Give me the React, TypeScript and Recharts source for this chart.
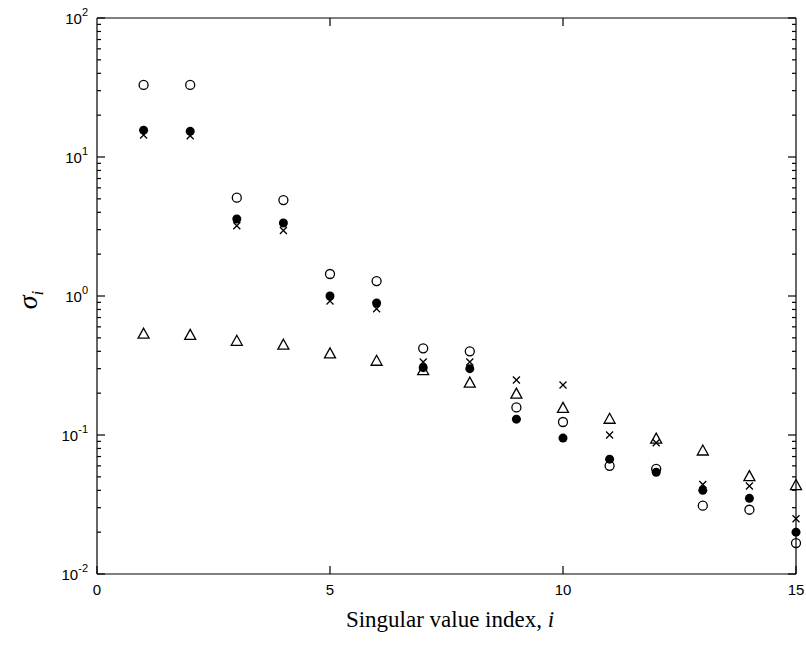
import React from 'react';
import { ScatterChart, Scatter, XAxis, YAxis } from 'recharts';

// singular value index
const indices = [1, 2, 3, 4, 5, 6, 7, 8, 9, 10, 11, 12, 13, 14, 15];

// four sets of singular values
const sigmaOpen = [33, 33, 5.1, 4.9, 1.44, 1.28, 0.42, 0.4, 0.158, 0.124, 0.06, 0.057, 0.031, 0.029, 0.0167];
const sigmaFilled = [15.6, 15.3, 3.58, 3.35, 1.0, 0.89, 0.305, 0.3, 0.13, 0.095, 0.067, 0.054, 0.04, 0.035, 0.02];
const sigmaCross = [14.4, 14.2, 3.2, 2.96, 0.92, 0.81, 0.335, 0.335, 0.249, 0.229, 0.1, 0.088, 0.044, 0.043, 0.025];
const sigmaTriangle = [0.54, 0.53, 0.48, 0.45, 0.39, 0.345, 0.295, 0.24, 0.2, 0.158, 0.132, 0.095, 0.078, 0.051, 0.044];

const xTicks = [0, 5, 10, 15];
const xTopTicks = [5, 10];
const yMajorTicks = [0.01, 0.1, 1, 10, 100];
const yExponents = ['-2', '-1', '0', '1', '2'];
const minorMultipliers = [2, 3, 4, 5, 6, 7, 8, 9];
const yMinorTicks = [0.01, 0.1, 1, 10].flatMap(d => minorMultipliers.map(m => +(m * d).toPrecision(3)));
const yAllTicks = [...yMajorTicks, ...yMinorTicks].sort((a, b) => a - b);

const toPoints = (vals: number[]) => indices.map((i, k) => ({ i, v: vals[k] }));

const tickFont = '"Liberation Sans", Arial, sans-serif';

const majorIndex = (v: number) => yMajorTicks.findIndex(t => Math.abs(t - v) / t < 1e-6);

const LeftTick = (props: any) => {
  const x = Number(props.x);
  const y = Number(props.y);
  const idx = majorIndex(props.payload.value);
  const major = idx >= 0;
  return (
    <g>
      <path d={`M${x},${y}h${major ? 8 : 4}`} stroke="#000" strokeWidth={1.2} fill="none" />
      {major && (
        <text x={x - 9} y={y + 6} textAnchor="end" fontFamily={tickFont} fontSize={15} fill="#000">
          <tspan>10</tspan>
          <tspan dy={-8} fontSize={11}>{yExponents[idx]}</tspan>
        </text>
      )}
    </g>
  );
};

const RightTick = (props: any) => {
  const x = Number(props.x);
  const y = Number(props.y);
  const major = majorIndex(props.payload.value) >= 0;
  return <path d={`M${x},${y}h${major ? -8 : -4}`} stroke="#000" strokeWidth={1.2} fill="none" />;
};

const BottomTick = (props: any) => {
  const x = Number(props.x);
  const y = Number(props.y);
  return (
    <g>
      <path d={`M${x},${y}v-8`} stroke="#000" strokeWidth={1.2} fill="none" />
      <text x={x} y={y + 21} textAnchor="middle" fontFamily={tickFont} fontSize={15} fill="#000">
        {props.payload.value}
      </text>
    </g>
  );
};

const TopTick = (props: any) => {
  const x = Number(props.x);
  const y = Number(props.y);
  return <path d={`M${x},${y}v8`} stroke="#000" strokeWidth={1.2} fill="none" />;
};

const NoShape = () => <g />;

const OpenCircle = (props: any) => (
  <circle cx={props.cx} cy={props.cy} r={4.5} fill="none" stroke="#000" strokeWidth={1.3} />
);
const FilledCircle = (props: any) => <circle cx={props.cx} cy={props.cy} r={4.5} fill="#000" />;
const Cross = (props: any) => {
  const cx = Number(props.cx);
  const cy = Number(props.cy);
  const s = 3.5;
  return (
    <path
      d={`M${cx - s},${cy - s}L${cx + s},${cy + s}M${cx - s},${cy + s}L${cx + s},${cy - s}`}
      stroke="#000"
      strokeWidth={1.3}
      fill="none"
    />
  );
};
const Triangle = (props: any) => {
  const cx = Number(props.cx);
  const cy = Number(props.cy);
  const h = 5;
  return (
    <polygon
      points={`${cx},${cy - h} ${cx + 5.5},${cy + h} ${cx - 5.5},${cy + h}`}
      fill="none"
      stroke="#000"
      strokeWidth={1.3}
    />
  );
};

export default function App() {
  return (
    <div style={{ position: 'absolute', left: 0, top: 0, width: 806, height: 660, background: '#fff' }}>
      <ScatterChart width={806} height={660} margin={{ top: 17, right: 9, left: 0, bottom: 56 }}>
        <XAxis
          xAxisId="bottom"
          dataKey="i"
          type="number"
          domain={[0, 15]}
          ticks={xTicks}
          tickSize={0}
          tickMargin={0}
          tick={<BottomTick />}
          axisLine={{ stroke: '#000', strokeWidth: 1.2 }}
          height={30}
        />
        <XAxis
          xAxisId="top"
          orientation="top"
          dataKey="i"
          type="number"
          domain={[0, 15]}
          ticks={xTopTicks}
          tickSize={0}
          tickMargin={0}
          tick={<TopTick />}
          axisLine={{ stroke: '#000', strokeWidth: 1.2 }}
          height={1}
        />
        <YAxis
          yAxisId="left"
          dataKey="v"
          type="number"
          scale="log"
          domain={[0.01, 100]}
          allowDataOverflow
          ticks={yAllTicks}
          interval={0}
          tickSize={0}
          tickMargin={0}
          tick={<LeftTick />}
          axisLine={{ stroke: '#000', strokeWidth: 1.2 }}
          width={97}
        />
        <YAxis
          yAxisId="right"
          orientation="right"
          dataKey="v"
          type="number"
          scale="log"
          domain={[0.01, 100]}
          allowDataOverflow
          ticks={yAllTicks}
          interval={0}
          tickSize={0}
          tickMargin={0}
          tick={<RightTick />}
          axisLine={{ stroke: '#000', strokeWidth: 1.2 }}
          width={1}
        />
        <Scatter data={toPoints(sigmaTriangle)} xAxisId="bottom" yAxisId="left" shape={<Triangle />} isAnimationActive={false} />
        <Scatter data={toPoints(sigmaCross)} xAxisId="bottom" yAxisId="left" shape={<Cross />} isAnimationActive={false} />
        <Scatter data={toPoints(sigmaOpen)} xAxisId="bottom" yAxisId="left" shape={<OpenCircle />} isAnimationActive={false} />
        <Scatter data={toPoints(sigmaFilled)} xAxisId="bottom" yAxisId="left" shape={<FilledCircle />} isAnimationActive={false} />
        {/* hidden copy so that the top and right frame axes are drawn */}
        <Scatter data={toPoints(sigmaFilled)} xAxisId="top" yAxisId="right" shape={<NoShape />} isAnimationActive={false} />
      </ScatterChart>
      <div
        style={{
          position: 'absolute',
          left: 0,
          width: 900,
          top: 607,
          textAlign: 'center',
          fontFamily: '"Liberation Serif", "Times New Roman", serif',
          fontSize: 23,
          color: '#000',
          whiteSpace: 'nowrap',
        }}
      >
        Singular value index, <i>i</i>
      </div>
      <div
        style={{
          position: 'absolute',
          left: 30,
          top: 300,
          transform: 'translate(-50%, -50%) rotate(-90deg)',
          fontFamily: '"Liberation Serif", "Times New Roman", serif',
          fontSize: 28,
          fontStyle: 'italic',
          color: '#000',
          whiteSpace: 'nowrap',
        }}
      >
        σ<sub style={{ fontSize: 17 }}>i</sub>
      </div>
    </div>
  );
}
